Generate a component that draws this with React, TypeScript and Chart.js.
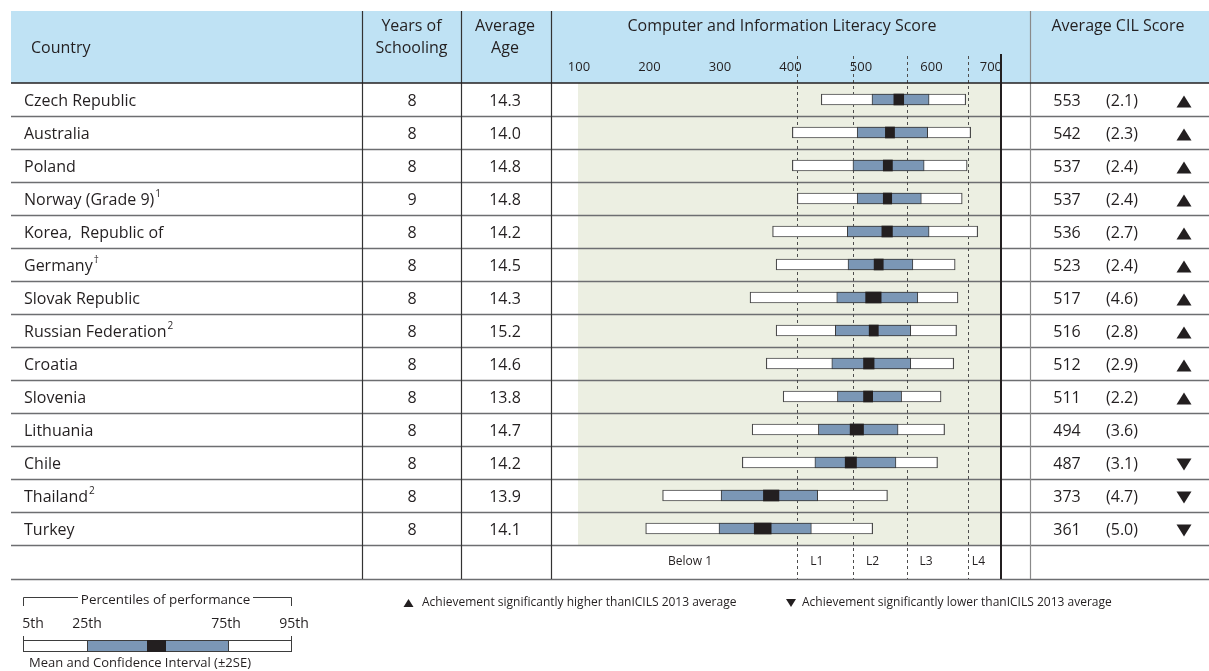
import React, { useEffect, useRef } from "react";
import { Chart, registerables } from "chart.js";

Chart.register(...registerables);

// ---------- data ----------
const countries = [
  "Czech Republic",
  "Australia",
  "Poland",
  "Norway (Grade 9)",
  "Korea,  Republic of",
  "Germany",
  "Slovak Republic",
  "Russian Federation",
  "Croatia",
  "Slovenia",
  "Lithuania",
  "Chile",
  "Thailand",
  "Turkey",
];
const countryNotes = ["", "", "", "1", "", "†", "", "2", "", "", "", "", "2", ""];
const yearsOfSchooling = ["8", "8", "8", "9", "8", "8", "8", "8", "8", "8", "8", "8", "8", "8"];
const averageAge = ["14.3", "14.0", "14.8", "14.8", "14.2", "14.5", "14.3", "15.2", "14.6", "13.8", "14.7", "14.2", "13.9", "14.1"];
const averageScore = ["553", "542", "537", "537", "536", "523", "517", "516", "512", "511", "494", "487", "373", "361"];
const standardError = ["(2.1)", "(2.3)", "(2.4)", "(2.4)", "(2.7)", "(2.4)", "(4.6)", "(2.8)", "(2.9)", "(2.2)", "(3.6)", "(3.1)", "(4.7)", "(5.0)"];
const significance = ["up", "up", "up", "up", "up", "up", "up", "up", "up", "up", "", "down", "down", "down"];

const p5 = [445, 404, 404, 411, 376, 381, 344, 381, 367, 391, 347, 333, 220, 196];
const p25 = [517, 496, 490, 496, 482, 483, 467, 465, 460, 468, 441, 436, 303, 300];
const p75 = [598, 596, 591, 587, 598, 575, 582, 572, 572, 559, 554, 551, 440, 431];
const p95 = [650, 657, 652, 645, 667, 635, 639, 637, 633, 615, 620, 610, 539, 518];
const ciLow = [548, 536, 533, 533, 531, 520, 508, 513, 505, 505, 486, 479, 363, 350];
const ciHigh = [562, 549, 546, 545, 546, 533, 530, 526, 520, 518, 505, 495, 385, 374];

const axisTicks = [100, 200, 300, 400, 500, 600, 700];
const levelCutoffs = [411, 490, 566, 653];
const levelLabels = ["Below 1", "L1", "L2", "L3", "L4"];

// ---------- styles ----------
const FONT = "'Open Sans', 'Noto Sans', sans-serif";
const TEXT = "#231f20";
const HEADER_BG = "#bfe2f4";
const GREEN_BG = "#ecefe2";
const BLUE = "#7b97b6";
const DARK = "#231f20";

const W = 1209;
const H = 671;
const LEFT = 11;
const TOP = 11;
const COL_YEARS = 362;
const COL_AGE = 461;
const COL_CHART = 551;
const COL_SCORE = 1030;
const FOOTER_H = 34;

function tri(ctx: CanvasRenderingContext2D, cx: number, cy: number, up: boolean, w = 15, h = 12) {
  ctx.beginPath();
  if (up) {
    ctx.moveTo(cx - w / 2, cy + h / 2);
    ctx.lineTo(cx + w / 2, cy + h / 2);
    ctx.lineTo(cx, cy - h / 2);
  } else {
    ctx.moveTo(cx - w / 2, cy - h / 2);
    ctx.lineTo(cx + w / 2, cy - h / 2);
    ctx.lineTo(cx, cy + h / 2);
  }
  ctx.closePath();
  ctx.fill();
}

function line(ctx: CanvasRenderingContext2D, x1: number, y1: number, x2: number, y2: number) {
  ctx.beginPath();
  ctx.moveTo(x1, y1);
  ctx.lineTo(x2, y2);
  ctx.stroke();
}

const tablePlugin = {
  id: "cilsTable",
  beforeDatasetsDraw(chart: any) {
    const ctx: CanvasRenderingContext2D = chart.ctx;
    const xs = chart.scales.x;
    const ys = chart.scales.y;
    const area = chart.chartArea;
    const n = countries.length;
    const band = (area.bottom - area.top) / n;
    const footerBottom = area.bottom + FOOTER_H;

    ctx.save();
    // backgrounds
    ctx.fillStyle = HEADER_BG;
    ctx.fillRect(LEFT, TOP, W - LEFT, area.top - TOP);
    ctx.fillStyle = GREEN_BG;
    ctx.fillRect(area.left, area.top, area.right - area.left, area.bottom - area.top);

    // row separators
    ctx.strokeStyle = "#6d6e71";
    ctx.lineWidth = 1.3;
    for (let i = 1; i <= n; i++) {
      const y = Math.round(area.top + i * band) + 0.5;
      line(ctx, LEFT, y, W, y);
    }
    line(ctx, LEFT, footerBottom + 0.5, W, footerBottom + 0.5);

    // level cut-offs (dashed)
    ctx.strokeStyle = "#4d4d4d";
    ctx.lineWidth = 1;
    ctx.setLineDash([3, 3]);
    levelCutoffs.forEach((c) => {
      const x = Math.round(xs.getPixelForValue(c)) + 0.5;
      line(ctx, x, 56, x, footerBottom);
    });
    ctx.setLineDash([]);

    // column lines
    ctx.strokeStyle = "#333333";
    ctx.lineWidth = 1.2;
    [COL_YEARS, COL_AGE, COL_CHART].forEach((x) => line(ctx, x + 0.5, TOP, x + 0.5, footerBottom));
    ctx.strokeStyle = "#8a8a8a";
    line(ctx, COL_SCORE + 0.5, TOP, COL_SCORE + 0.5, footerBottom);
    ctx.strokeStyle = "#231f20";
    ctx.lineWidth = 2;
    const xEnd = xs.getPixelForValue(700);
    line(ctx, xEnd, 54, xEnd, footerBottom);

    // header bottom line
    ctx.strokeStyle = "#231f20";
    ctx.lineWidth = 1.5;
    line(ctx, LEFT, area.top, W, area.top);

    // header text
    ctx.fillStyle = TEXT;
    ctx.textBaseline = "middle";
    ctx.font = `16px ${FONT}`;
    ctx.textAlign = "left";
    ctx.fillText("Country", 31, 48);
    ctx.textAlign = "center";
    ctx.fillText("Years of", (COL_YEARS + COL_AGE) / 2, 26);
    ctx.fillText("Schooling", (COL_YEARS + COL_AGE) / 2, 48);
    ctx.fillText("Average", 505, 26);
    ctx.fillText("Age", 505, 48);
    ctx.fillText("Computer and Information Literacy Score", 782, 26);
    ctx.fillText("Average CIL Score", 1118, 26);

    // axis ticks
    ctx.font = `13px ${FONT}`;
    axisTicks.forEach((t, i) => {
      const x = xs.getPixelForValue(t);
      if (i === axisTicks.length - 1) {
        ctx.textAlign = "right";
        ctx.fillText(String(t), x + 1, 67);
      } else {
        ctx.textAlign = "center";
        ctx.fillText(String(t), x + 1, 67);
      }
    });

    // rows
    for (let i = 0; i < n; i++) {
      const cy = ys.getPixelForValue(i) + 2;
      ctx.font = `16px ${FONT}`;
      ctx.textAlign = "left";
      ctx.fillText(countries[i], 24, cy);
      if (countryNotes[i]) {
        const w = ctx.measureText(countries[i]).width;
        ctx.font = `10px ${FONT}`;
        ctx.fillText(countryNotes[i], 24 + w + 1, cy - 6);
        ctx.font = `16px ${FONT}`;
      }
      ctx.textAlign = "center";
      ctx.fillText(yearsOfSchooling[i], 412, cy);
      ctx.fillText(averageAge[i], 505, cy);
      ctx.fillText(averageScore[i], 1067, cy);
      ctx.fillText(standardError[i], 1122, cy);
      if (significance[i]) {
        ctx.fillStyle = DARK;
        tri(ctx, 1184, cy, significance[i] === "up");
        ctx.fillStyle = TEXT;
      }
    }

    // footer level labels
    ctx.font = `12px ${FONT}`;
    ctx.textAlign = "center";
    const fy = area.bottom + FOOTER_H / 2;
    ctx.fillText(levelLabels[0], 690, fy);
    ctx.textAlign = "left";
    levelCutoffs.forEach((c, k) => {
      const x = xs.getPixelForValue(c);
      const off = k === levelCutoffs.length - 1 ? 4 : 13;
      ctx.fillText(levelLabels[k + 1], x + off, fy);
    });

    // ---- legend: percentiles ----
    ctx.strokeStyle = "#3d3d3d";
    ctx.lineWidth = 1;
    line(ctx, 23.5, 597.5, 78, 597.5);
    line(ctx, 253, 597.5, 291.5, 597.5);
    line(ctx, 23.5, 597.5, 23.5, 606);
    line(ctx, 291.5, 597.5, 291.5, 606);
    ctx.font = `13.4px ${FONT}`;
    ctx.textAlign = "center";
    ctx.fillStyle = TEXT;
    ctx.fillText("Percentiles of performance", 165.5, 600);
    ctx.font = `14px ${FONT}`;
    ctx.fillText("5th", 33, 624);
    ctx.fillText("25th", 87, 624);
    ctx.fillText("75th", 226, 624);
    ctx.fillText("95th", 294, 624);
    ctx.fillStyle = "#ffffff";
    ctx.fillRect(23.5, 640.5, 268, 11);
    ctx.strokeRect(23.5, 640.5, 268, 11);
    ctx.fillStyle = BLUE;
    ctx.fillRect(87.5, 640.5, 141, 11);
    ctx.strokeRect(87.5, 640.5, 141, 11);
    ctx.fillStyle = DARK;
    ctx.fillRect(147, 640, 19, 12);
    line(ctx, 23.5, 636, 23.5, 641);
    line(ctx, 291.5, 636, 291.5, 641);
    ctx.fillStyle = TEXT;
    ctx.textAlign = "left";
    ctx.font = `13px ${FONT}`;
    ctx.fillText("Mean and Confidence Interval (±2SE)", 29, 663);

    // ---- legend: significance ----
    ctx.font = `12px ${FONT}`;
    ctx.fillStyle = DARK;
    tri(ctx, 408.5, 603, true, 10, 8);
    tri(ctx, 791, 603, false, 10, 8);
    ctx.fillStyle = TEXT;
    ctx.fillText("Achievement significantly higher thanICILS 2013 average", 422, 603);
    ctx.fillText("Achievement significantly lower thanICILS 2013 average", 802, 603);

    ctx.restore();
  },
};

export default function App() {
  const canvasRef = useRef<HTMLCanvasElement | null>(null);

  useEffect(() => {
    document.body.style.margin = "0";
    const canvas = canvasRef.current;
    if (!canvas) return;
    const pairs = (lo: number[], hi: number[]) => lo.map((v, i) => [v, hi[i]]);
    const common = {
      barThickness: 11,
      grouped: false,
      borderSkipped: false as const,
    };
    const chart = new Chart(canvas, {
      type: "bar",
      data: {
        labels: countries,
        datasets: [
          {
            label: "Mean and Confidence Interval (±2SE)",
            data: pairs(ciLow, ciHigh) as any,
            backgroundColor: DARK,
            borderWidth: 0,
            order: 1,
            ...common,
          },
          {
            label: "25th–75th percentile",
            data: pairs(p25, p75) as any,
            backgroundColor: BLUE,
            borderColor: "#3a3a3a",
            borderWidth: 1,
            order: 2,
            ...common,
          },
          {
            label: "5th–95th percentile",
            data: pairs(p5, p95) as any,
            backgroundColor: "#ffffff",
            borderColor: "#4a4a4a",
            borderWidth: 1.2,
            order: 3,
            ...common,
          },
        ],
      },
      options: {
        responsive: false,
        animation: false,
        indexAxis: "y",
        layout: { padding: { left: 578, right: W - 1001, top: 83, bottom: H - 545 } },
        scales: {
          x: { type: "linear", min: 100, max: 700, display: false },
          y: { type: "category", display: false, offset: true },
        },
        plugins: { legend: { display: false }, tooltip: { enabled: false } },
      },
      plugins: [tablePlugin],
    });
    return () => chart.destroy();
  }, []);

  return (
    <canvas
      ref={canvasRef}
      width={W}
      height={H}
      style={{ display: "block", width: W, height: H, background: "#ffffff" }}
    />
  );
}
